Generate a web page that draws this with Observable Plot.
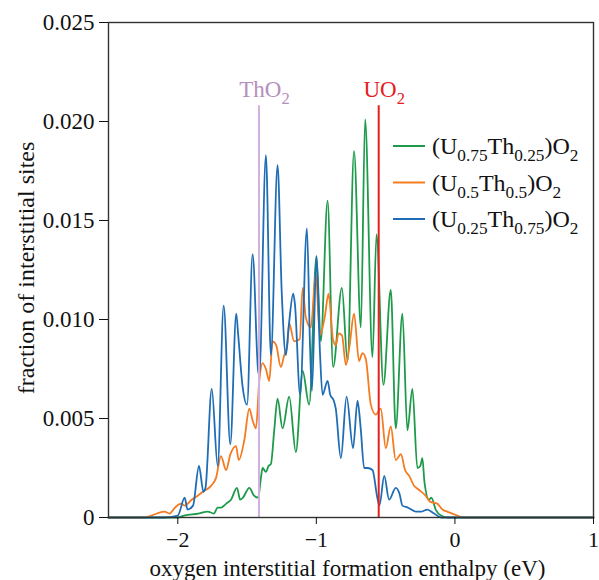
<!DOCTYPE html>
<html><head><meta charset="utf-8">
<script src="https://cdn.jsdelivr.net/npm/d3@7"></script>
<script src="https://cdn.jsdelivr.net/npm/@observablehq/plot@0.6"></script>
<style>
html,body{margin:0;padding:0;background:#fff}
#chart svg{display:block}
</style>
</head><body><div id="chart"></div>
<script>
// ---- series metadata ----
const seriesNames  = ["(U0.75Th0.25)O2", "(U0.5Th0.5)O2", "(U0.25Th0.75)O2"];
const seriesLabels = ["(U_{0.75}Th_{0.25})O_{2}", "(U_{0.5}Th_{0.5})O_{2}", "(U_{0.25}Th_{0.75})O_{2}"];
const seriesColors = ["#1e9a4b", "#f47b20", "#1f6db5"];

// ---- (U0.75Th0.25)O2 : green ----
const greenX = [-2.5,-2.0,-1.955,-1.85,-1.784,-1.74,-1.712,-1.688,-1.65,-1.616,-1.573,-1.55,-1.53,-1.484,-1.45,-1.42,-1.40,-1.388,-1.364,-1.345,-1.328,-1.304,-1.28,-1.244,-1.196,-1.148,-1.099,-1.052,-0.999,-0.968,-0.919,-0.879,-0.816,-0.775,-0.728,-0.679,-0.648,-0.595,-0.566,-0.516,-0.463,-0.427,-0.379,-0.343,-0.307,-0.271,-0.25,-0.235,-0.22,-0.187,-0.17,-0.139,-0.10,-0.05,1.0];
const greenY = [0,0,0.0001,0.0002,0.0003,0.0002,0.0005,0.0005,0.0007,0.0009,0.0015,0.0009,0.001,0.0015,0.0011,0.001,0.002,0.0025,0.0023,0.0026,0.0027,0.0044,0.006,0.0045,0.0061,0.0033,0.0074,0.0057,0.0132,0.0089,0.016,0.0076,0.0116,0.0079,0.0185,0.0096,0.0201,0.0081,0.0143,0.0067,0.0115,0.0045,0.0103,0.0044,0.0065,0.0025,0.0026,0.003,0.0018,0.0009,0.001,0.0004,0.0001,0,0];

// ---- (U0.5Th0.5)O2 : orange ----
const orangeX = [-2.5,-2.25,-2.19,-2.097,-2.06,-2.02,-1.976,-1.95,-1.90,-1.856,-1.82,-1.76,-1.724,-1.688,-1.652,-1.62,-1.58,-1.56,-1.52,-1.484,-1.46,-1.436,-1.412,-1.388,-1.364,-1.34,-1.316,-1.29,-1.256,-1.232,-1.21,-1.196,-1.16,-1.12,-1.099,-1.076,-1.04,-1.004,-0.975,-0.94,-0.912,-0.88,-0.86,-0.84,-0.815,-0.787,-0.76,-0.728,-0.692,-0.667,-0.643,-0.607,-0.571,-0.535,-0.499,-0.463,-0.427,-0.39,-0.36,-0.33,-0.295,-0.26,-0.211,-0.18,-0.127,-0.09,-0.055,0.017,0.06,1.0];
const orangeY = [0,0,0.0001,0.0003,0.0002,0.0005,0.0007,0.0006,0.0009,0.0011,0.0013,0.0016,0.002,0.0031,0.0024,0.0032,0.0036,0.0029,0.0039,0.0055,0.0049,0.0045,0.0069,0.0078,0.0075,0.0069,0.0089,0.0087,0.0076,0.0082,0.0087,0.0098,0.0089,0.009,0.0116,0.0101,0.0096,0.0123,0.0092,0.0101,0.0113,0.009,0.0087,0.0093,0.0092,0.0077,0.0087,0.0103,0.0079,0.0083,0.008,0.0057,0.0052,0.0055,0.0035,0.0046,0.0029,0.0032,0.0024,0.0021,0.0016,0.0014,0.0011,0.0008,0.0007,0.0004,0.0003,0.0001,0,0];

// ---- (U0.25Th0.75)O2 : blue ----
const blueX = [-2.5,-2.1,-2.0,-1.95,-1.93,-1.89,-1.847,-1.815,-1.80,-1.755,-1.712,-1.669,-1.621,-1.578,-1.565,-1.532,-1.50,-1.46,-1.42,-1.412,-1.364,-1.328,-1.28,-1.25,-1.22,-1.20,-1.167,-1.155,-1.117,-1.068,-1.045,-1.032,-0.999,-0.975,-0.955,-0.919,-0.90,-0.874,-0.86,-0.823,-0.782,-0.735,-0.703,-0.68,-0.655,-0.63,-0.595,-0.56,-0.545,-0.51,-0.475,-0.427,-0.40,-0.379,-0.34,-0.283,-0.24,-0.20,-0.15,-0.10,1.0];
const blueY = [0,0,0.0001,0.001,0.0004,0.0006,0.0026,0.0013,0.0015,0.0065,0.0026,0.0107,0.0037,0.0103,0.0093,0.0066,0.0057,0.0133,0.0074,0.0072,0.0183,0.0082,0.0178,0.0114,0.0082,0.0096,0.0113,0.0108,0.0062,0.0146,0.0085,0.0064,0.0132,0.0085,0.0062,0.0069,0.0062,0.0059,0.0055,0.003,0.0061,0.0035,0.0059,0.0045,0.0025,0.0025,0.0024,0.001,0.0006,0.0021,0.0009,0.0015,0.0012,0.0006,0.0005,0.0003,0.0003,0.0004,0.0002,0,0];

// ---- reference compounds ----
const refLabels = ["ThO_{2}", "UO_{2}"];
const refX = [-1.414, -0.55];
const refTop = [0.0208, 0.0208];
const refLineColors = ["#d2b1df", "#e3211e"];
const refTextColors = ["#b48fbd", "#e3211e"];

// ---- axes ----
const xTicks = [-2, -1, 0, 1];
const yTicks = [0, 0.005, 0.010, 0.015, 0.020, 0.025];
const xTitle = "oxygen interstitial formation enthalpy (eV)";
const yTitle = "fraction of interstitial sites";

// build table
const xs = [greenX, orangeX, blueX], ys = [greenY, orangeY, blueY];
const data = [];
seriesNames.forEach((s, i) => xs[i].forEach((x, j) => data.push({series: s, x, y: ys[i][j]})));
const refs = refX.map((x, i) => ({x, top: refTop[i]}));

const FONT = "'Liberation Serif','Times New Roman',Times,serif";

const plot = Plot.plot({
  width: 599, height: 580,
  marginLeft: 108, marginRight: 6, marginTop: 22, marginBottom: 63,
  style: {fontFamily: FONT, fontSize: "23px", color: "#111", background: "#fff", overflow: "visible"},
  x: {domain: [-2.5, 1]},
  y: {domain: [0, 0.025]},
  color: {domain: seriesNames, range: seriesColors},
  marks: [
    Plot.line(data, {x: "x", y: "y", z: "series", stroke: "series", strokeWidth: 1.8, curve: "monotone-x", strokeLinejoin: "round"}),
    ...refs.map((r, i) => Plot.ruleX([r], {x: "x", y1: 0, y2: "top", stroke: refLineColors[i], strokeWidth: 2})),
    Plot.frame({stroke: "#333", strokeWidth: 1.4}),
    Plot.axisX({ticks: xTicks, tickSize: 7, tickPadding: 7, label: null, fontSize: 22,
      tickFormat: d => d < 0 ? "\u2212" + Math.abs(d) : String(d)}),
    Plot.axisY({ticks: yTicks, tickSize: 9, tickPadding: 5, label: null, fontSize: 23,
      tickFormat: d => d === 0 ? "0" : d.toFixed(3)})
  ]
});
document.getElementById("chart").appendChild(plot);

// rich text (subscripts) helper
const NS = "http://www.w3.org/2000/svg";
function richText(parent, str, x, y, size, fill, anchor) {
  const t = document.createElementNS(NS, "text");
  t.setAttribute("x", x); t.setAttribute("y", y);
  t.setAttribute("fill", fill);
  t.setAttribute("font-family", FONT);
  t.setAttribute("font-size", size);
  t.setAttribute("text-anchor", anchor || "start");
  const parts = str.split(/_\{([^}]*)\}/);
  const sub = size * 0.72, shift = size * 0.3;
  let lowered = false;
  parts.forEach((p, k) => {
    if (!p) return;
    const ts = document.createElementNS(NS, "tspan");
    ts.textContent = p;
    if (k % 2 === 1) {
      ts.setAttribute("font-size", sub);
      if (!lowered) { ts.setAttribute("dy", shift); lowered = true; }
    } else {
      ts.setAttribute("font-size", size);
      if (lowered) { ts.setAttribute("dy", -shift); lowered = false; }
    }
    t.appendChild(ts);
  });
  parent.appendChild(t);
  return t;
}

const sx = plot.scale("x"), sy = plot.scale("y");
const g = document.createElementNS(NS, "g");
plot.appendChild(g);

// axis titles
richText(g, xTitle, (108 + 593) / 2 - 3, 576, 23, "#111", "middle");
const yt = richText(g, yTitle, 0, 0, 24, "#111", "middle");
yt.setAttribute("transform", "translate(34,268) rotate(-90)");

// reference labels above the vertical lines
refs.forEach((r, i) => {
  richText(g, refLabels[i], sx.apply(r.x) + 6, sy.apply(r.top) - 8, 23, refTextColors[i], "middle");
});

// legend (top right, inside frame)
const legX = 393, legY0 = 146, legDY = 36.5;
seriesLabels.forEach((lab, i) => {
  const y = legY0 + i * legDY;
  const ln = document.createElementNS(NS, "line");
  ln.setAttribute("x1", legX); ln.setAttribute("x2", legX + 32);
  ln.setAttribute("y1", y); ln.setAttribute("y2", y);
  ln.setAttribute("stroke", seriesColors[i]); ln.setAttribute("stroke-width", 2);
  g.appendChild(ln);
  richText(g, lab, legX + 39, y + 8, 24, "#111", "start");
});
</script>
</body></html>
